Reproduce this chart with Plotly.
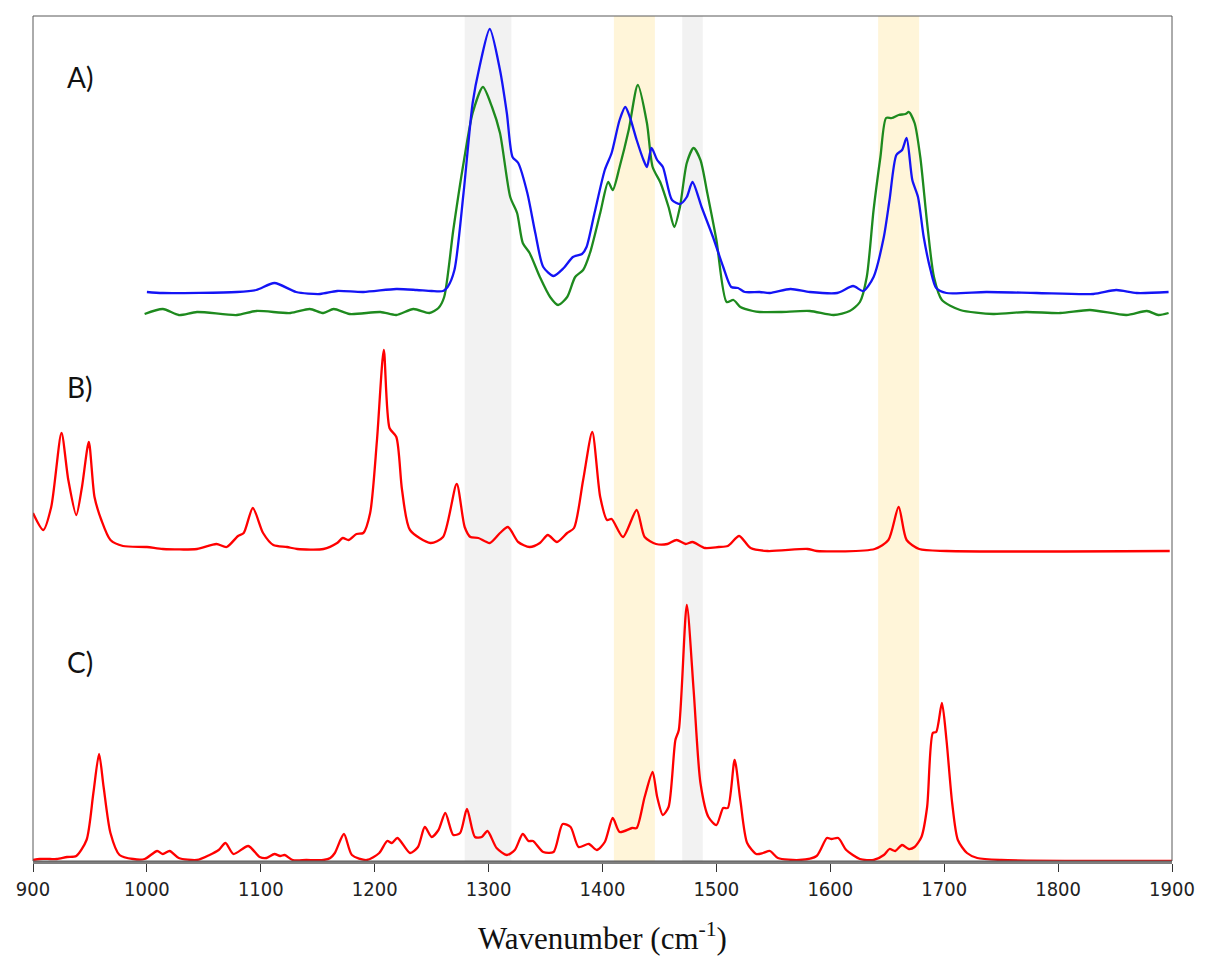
#!/usr/bin/env python3
"""
Stacked vibrational spectra (A: experimental pair, B and C: computed) with highlighted bands.
"""

import plotly.graph_objects as go

# A) experimental spectra (wavenumber, intensity in a.u.)
A_BLUE_X = [1000, 1014, 1079, 1096, 1112, 1131, 1152, 1167, 1190, 1219, 1237, 1250, 1260, 1264,
            1270, 1278, 1286, 1292, 1301, 1310, 1316, 1321, 1326, 1334, 1341, 1348, 1357, 1366,
            1374, 1382, 1386, 1393, 1402, 1408, 1415, 1420, 1424, 1430, 1436, 1439, 1443, 1448,
            1453, 1461, 1468, 1474, 1479, 1487, 1497, 1506, 1513, 1519, 1525, 1538, 1547, 1565,
            1582, 1606, 1620, 1629, 1638, 1647, 1652, 1658, 1663, 1667, 1672, 1677, 1682, 1688,
            1693, 1702, 1737, 1781, 1831, 1851, 1869, 1897]
A_BLUE_Y = [569, 568, 569, 571, 578, 569, 567, 570, 569, 572, 571, 570, 570, 574,
            591, 668, 758, 794, 832, 791, 748, 704, 698, 668, 628, 594, 585, 593,
            604, 607, 614, 648, 691, 708, 741, 754, 744, 721, 701, 694, 713, 701,
            694, 661, 657, 664, 679, 654, 624, 594, 574, 573, 569, 569, 568, 572,
            569, 568, 575, 570, 584, 624, 661, 706, 711, 723, 681, 664, 624, 591,
            573, 568, 569, 568, 567, 571, 568, 569]

A_GREEN_X = [998, 1014, 1028, 1044, 1079, 1096, 1126, 1143, 1155, 1164, 1178, 1205, 1219, 1234,
             1248, 1256, 1261, 1269, 1278, 1286, 1295, 1303, 1310, 1319, 1325, 1330, 1336, 1345,
             1354, 1361, 1369, 1376, 1383, 1389, 1398, 1405, 1409, 1415, 1423, 1431, 1439, 1444,
             1451, 1458, 1463, 1468, 1474, 1480, 1486, 1492, 1500, 1509, 1515, 1521, 1532, 1538,
             1556, 1582, 1603, 1617, 1626, 1632, 1638, 1644, 1649, 1654, 1660, 1666, 1669, 1674,
             1679, 1685, 1691, 1698, 1714, 1743, 1772, 1802, 1828, 1860, 1878, 1888, 1897]
A_GREEN_Y = [547, 552, 546, 549, 546, 550, 548, 552, 548, 552, 547, 549, 546, 552,
             548, 553, 564, 631, 698, 748, 774, 754, 728, 664, 648, 618, 608, 584,
             564, 556, 564, 584, 591, 608, 648, 679, 671, 694, 731, 776, 738, 694,
             678, 654, 634, 654, 698, 713, 701, 668, 621, 559, 561, 554, 550, 549,
             549, 550, 546, 550, 559, 584, 651, 704, 743, 743, 746, 747, 749, 738,
             704, 638, 584, 561, 551, 547, 549, 548, 551, 546, 550, 546, 548]

# B) computed spectrum
B_X = [900, 909, 916, 925, 931, 938, 943, 949, 954, 960, 968, 979, 1000, 1014, 1044, 1061,
       1070, 1080, 1085, 1093, 1102, 1111, 1123, 1132, 1155, 1167, 1172, 1177, 1184, 1190,
       1196, 1202, 1208, 1213, 1219, 1224, 1231, 1249, 1260, 1272, 1279, 1284, 1291, 1301,
       1310, 1317, 1326, 1336, 1345, 1352, 1360, 1369, 1375, 1383, 1391, 1398, 1404, 1408,
       1418, 1430, 1437, 1447, 1457, 1465, 1473, 1479, 1490, 1502, 1510, 1520, 1530, 1545,
       1580, 1588, 1639, 1651, 1660, 1667, 1678, 1702, 1898]
B_Y = [348, 331, 354, 428, 381, 346, 374, 419, 364, 341, 321, 315, 314, 312, 312, 317,
       314, 325, 328, 353, 328, 316, 314, 312, 312, 318, 323, 321, 327, 328,
       348, 421, 511, 433, 424, 371, 331, 318, 324, 377, 334, 324, 323, 318,
       328, 334, 319, 314, 318, 326, 319, 328, 333, 381, 429, 364, 341, 342,
       324, 351, 324, 317, 317, 321, 317, 319, 313, 314, 315, 325, 313, 310,
       312, 310, 312, 321, 354, 321, 312, 310, 310]

# C) computed spectrum
C_X = [900, 906, 915, 921, 930, 938, 947, 953, 958, 962, 968, 976, 988, 998, 1009, 1014,
       1020, 1028, 1044, 1055, 1063, 1069, 1076, 1089, 1099, 1105, 1112, 1117, 1121, 1128,
       1140, 1155, 1161, 1165, 1173, 1180, 1193, 1204, 1211, 1215, 1220, 1231, 1238, 1244,
       1250, 1256, 1262, 1269, 1275, 1281, 1288, 1294, 1299, 1307, 1316, 1323, 1330, 1335,
       1339, 1348, 1357, 1365, 1372, 1379, 1388, 1395, 1402, 1409, 1415, 1426, 1430, 1437,
       1444, 1448, 1453, 1458, 1464, 1467, 1474, 1480, 1486, 1493, 1500, 1506, 1510, 1516,
       1521, 1527, 1535, 1541, 1547, 1554, 1573, 1588, 1597, 1601, 1607, 1614, 1626, 1638,
       1647, 1652, 1657, 1663, 1669, 1674, 1680, 1685, 1690, 1693, 1698, 1702, 1707, 1712,
       1720, 1729, 1750, 1900]
C_Y = [1, 2, 2, 2, 4, 5, 21, 68, 107, 74, 28, 6, 2, 2, 10, 7,
       10, 3, 1, 6, 11, 18, 7, 15, 4, 3, 7, 5, 6, 1,
       1, 1, 3, 8, 27, 6, 1, 8, 20, 18, 23, 8, 14, 34,
       24, 31, 48, 26, 28, 52, 24, 24, 30, 13, 6, 11, 27, 20,
       20, 9, 9, 37, 34, 14, 17, 11, 19, 43, 29, 33, 33, 64,
       89, 64, 46, 54, 121, 131, 256, 171, 78, 44, 36, 53, 53, 101,
       61, 18, 7, 8, 10, 3, 1, 5, 23, 22, 23, 11, 2, 1,
       6, 12, 10, 16, 12, 14, 24, 54, 128, 129, 158, 121, 58, 21,
       8, 3, 1, 0]

# highlighted bands (cm-1)
GRAY_BANDS = [(1279, 1320), (1470, 1488)]
YELLOW_BANDS = [(1410, 1446), (1642, 1678)]

PANEL_LABELS = ["A)", "B)", "C)"]
PANEL_LABEL_Y = [784, 474, 199]

X_TICKS = list(range(900, 2000, 100))


def main() -> None:
    fig = go.Figure()

    for x0, x1 in GRAY_BANDS:
        fig.add_vrect(x0=x0, x1=x1, fillcolor="#F2F2F2", line_width=0, layer="below")
    for x0, x1 in YELLOW_BANDS:
        fig.add_vrect(x0=x0, x1=x1, fillcolor="#FFF5D9", line_width=0, layer="below")

    line_shape = dict(shape="spline", smoothing=0.7, width=2.3)
    fig.add_trace(go.Scatter(x=A_GREEN_X, y=A_GREEN_Y, mode="lines",
                             line=dict(color="#1E8A1E", **line_shape)))
    fig.add_trace(go.Scatter(x=A_BLUE_X, y=A_BLUE_Y, mode="lines",
                             line=dict(color="#1414F5", **line_shape)))
    fig.add_trace(go.Scatter(x=B_X, y=B_Y, mode="lines",
                             line=dict(color="#FF0000", **line_shape)))
    fig.add_trace(go.Scatter(x=C_X, y=C_Y, mode="lines",
                             line=dict(color="#FF0000", **line_shape)))

    for label, y in zip(PANEL_LABELS, PANEL_LABEL_Y):
        fig.add_annotation(x=0.028, y=y, xref="paper", yref="y", text=label, showarrow=False,
                           xanchor="left", yanchor="middle",
                           font=dict(family="Lato, Open Sans, sans-serif", size=28, color="#111111"))

    # thin frame on left, top and right
    fig.add_shape(type="rect", xref="paper", yref="paper", x0=0, x1=1, y0=0, y1=1,
                  line=dict(color="#595959", width=1), layer="above")

    # the page body adds an 8 px offset, so the figure is sized to fit the window
    fig.update_layout(
        width=1197,
        height=948,
        margin=dict(l=25, r=33, t=8, b=95),
        paper_bgcolor="white",
        plot_bgcolor="white",
        showlegend=False,
        xaxis=dict(
            range=[900, 1900],
            tickvals=X_TICKS,
            ticks="outside",
            ticklen=8,
            tickcolor="#333333",
            showline=True,
            linecolor="#7F7F7F",
            linewidth=3,
            showgrid=False,
            zeroline=False,
            automargin=False,
            layer="below traces",
            tickfont=dict(family="DejaVu Sans Condensed, Liberation Sans, sans-serif",
                          size=20, color="#222222"),
            title=dict(text="Wavenumber (cm<sup>-1</sup>)", standoff=28,
                       font=dict(family="Liberation Serif, Times New Roman, serif",
                                 size=31, color="#111111")),
        ),
        yaxis=dict(
            range=[0, 845],
            showticklabels=False,
            ticks="",
            showgrid=False,
            zeroline=False,
            showline=False,
            automargin=False,
        ),
    )

    fig.write_html("out.html")


if __name__ == "__main__":
    main()
